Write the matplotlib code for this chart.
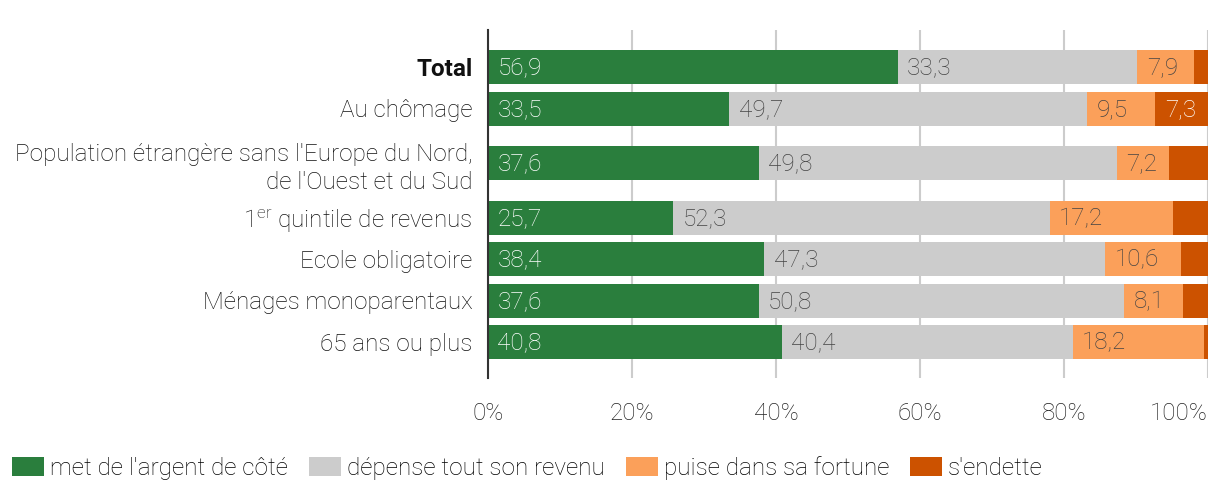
import matplotlib.pyplot as plt
from matplotlib.patches import Patch

plt.rcParams['font.family'] = ['Roboto', 'DejaVu Sans']
plt.rcParams['mathtext.fontset'] = 'custom'
plt.rcParams['mathtext.rm'] = 'Roboto:light'

categories = ['Total', 'Au chômage',
              "Population étrangère sans l'Europe du Nord,\nde l'Ouest et du Sud",
              '1$^{\\mathrm{er}}$ quintile de revenus', 'Ecole obligatoire',
              'Ménages monoparentaux', '65 ans ou plus']
series_names = ["met de l'argent de côté", 'dépense tout son revenu',
                'puise dans sa fortune', "s'endette"]
epargne = [56.9, 33.5, 37.6, 25.7, 38.4, 37.6, 40.8]
depense = [33.3, 49.7, 49.8, 52.3, 47.3, 50.8, 40.4]
fortune = [7.9, 9.5, 7.2, 17.2, 10.6, 8.1, 18.2]
endette = [1.9, 7.3, 5.4, 4.8, 3.7, 3.5, 0.6]
colors = ['#2a7e3d', '#cccccc', '#fba05a', '#cc5200']
text_colors = ['white', '#444444', '#444444', 'white']
xticks = [0, 20, 40, 60, 80, 100]

series = [epargne, depense, fortune, endette]

# vertical positions: extra room for multi-line labels
ypos = []
y = 37
for i, c in enumerate(categories):
    lines = c.count('\n')
    prev = categories[i - 1].count('\n') if i else 0
    if i:
        y += 41.5 + 13 * (lines + prev)
    ypos.append(y)

fig = plt.figure(figsize=(12.2, 5), dpi=100)
ax = fig.add_axes([488 / 1220, 1 - 378 / 500, 720 / 1220, 348 / 500])

fs = 17.5
left = [0] * len(categories)
for vals, col, tcol in zip(series, colors, text_colors):
    ax.barh(ypos, vals, left=left, height=34, color=col, zorder=2)
    for yy, l, v in zip(ypos, left, vals):
        if v >= 7:
            ax.text(l + 1.3, yy + 1, f'{v:.1f}'.replace('.', ','), va='center',
                    ha='left', color=tcol, fontsize=fs, fontweight='light',
                    zorder=3)
    left = [a + b for a, b in zip(left, vals)]

ax.set_ylim(348, 0)
ax.set_xlim(0, 100)
ax.set_yticks(ypos)
ax.set_yticklabels(categories, fontsize=fs, fontweight='light', color='#111111',
                   linespacing=1.3)
ax.get_yticklabels()[0].set_fontweight('bold')
ax.set_xticks(xticks)
ax.set_xticklabels([f'{t}%' for t in xticks], fontsize=fs, fontweight='light',
                   color='#222222')
ax.get_xticklabels()[-1].set_ha('right')
ax.tick_params(axis='both', length=0)
ax.tick_params(axis='x', pad=17)
ax.tick_params(axis='y', pad=11)
ax.grid(axis='x', color='#cccccc', linewidth=1.5, zorder=0)
for s in ['top', 'right', 'bottom']:
    ax.spines[s].set_visible(False)
ax.spines['left'].set_color('#333333')
ax.spines['left'].set_linewidth(1.5)
ax.spines['left'].set_zorder(4)

handles = [Patch(facecolor=c, edgecolor='none') for c in colors]
fig.legend(handles, series_names, loc='lower left',
           bbox_to_anchor=(0.004, 0.025), ncol=4, frameon=False,
           prop={'size': fs, 'weight': 'light'},
           handlelength=1.33, handleheight=0.83, handletextpad=0.24,
           columnspacing=0.85, borderaxespad=0.0, borderpad=0.3)

fig.savefig('out.png', dpi=100)
